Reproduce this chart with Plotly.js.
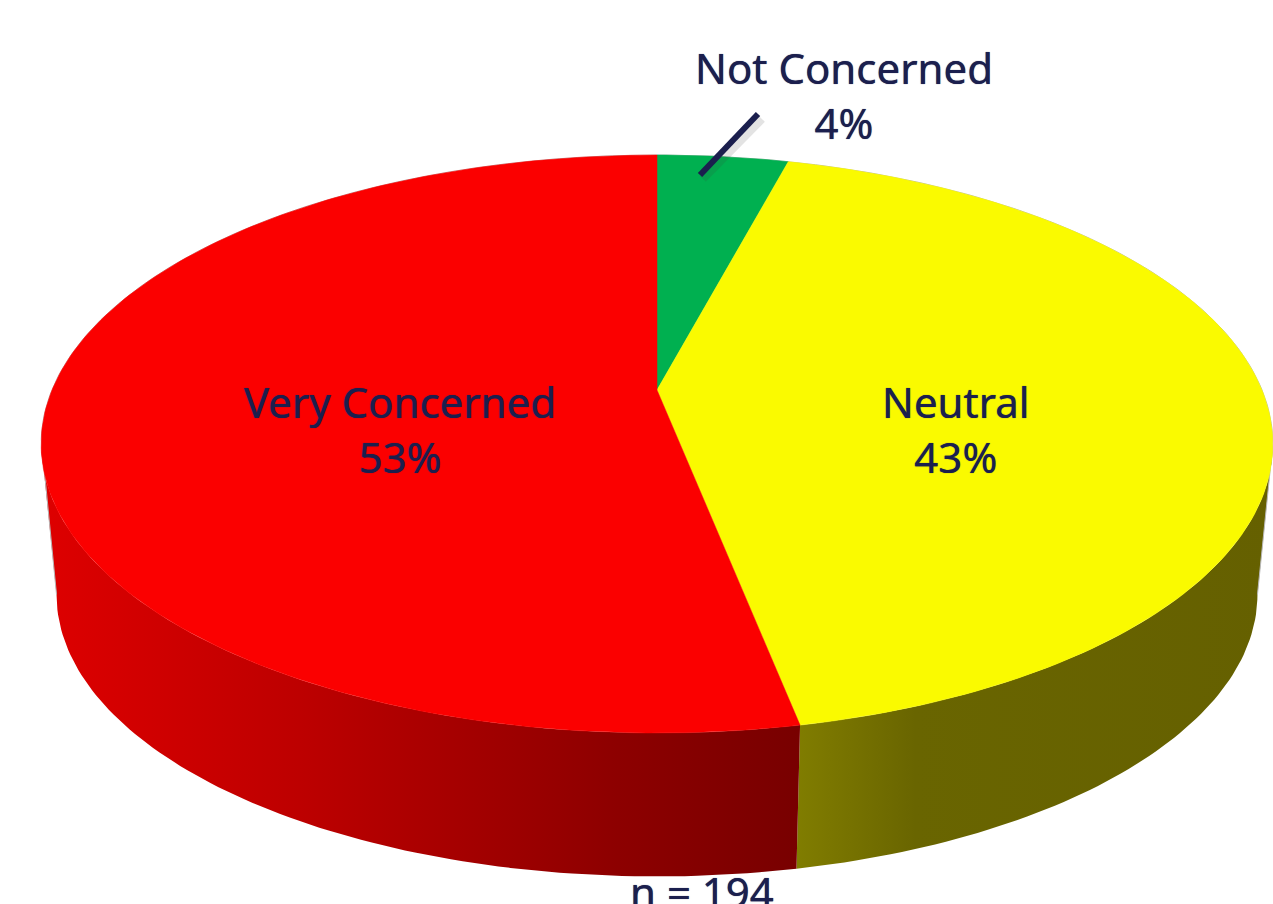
<!DOCTYPE html>
<html>
<head>
<meta charset="utf-8">
<script src="https://cdn.plot.ly/plotly-3.0.1.min.js"></script>
<style>html,body{margin:0;padding:0;background:#fff;overflow:hidden}#chart{width:1273px;height:904px}</style>
</head>
<body>
<div id="chart"></div>
<script>
// Data (clockwise from the top of the pie)
const categories = ['Not Concerned', 'Neutral', 'Very Concerned'];
const counts = [8, 83, 103];
const topColors = ['#00B050', '#FAFA00', '#FB0000'];
const totalLabel = 'n = ';

// Projection of the tilted disc onto the page
const cx = 657, cy = 390, radX = 605, radY = 278.9, persp = 0.1869;
const lowerCy = 542, lowerScale = 0.975;
const textColor = '#1B1F4E';
const fontFamily = '"Noto Sans", "Open Sans", sans-serif';
const fontSize = 42;
// Angles at which the disc's outline turns from front to back
const silRight = Math.acos(-persp) * 180 / Math.PI;
const silLeft = 360 - silRight;

const total = counts.reduce((a, b) => a + b, 0);
const shares = counts.map(c => c / total);

function rim(deg, lower) {
  const t = deg * Math.PI / 180, u = Math.sin(t), v = Math.cos(t), w = 1 + persp * v;
  const x = radX * u / w, y = -radY * v / w;
  return lower ? [cx + lowerScale * x, lowerCy + lowerScale * y] : [cx + x, cy + y];
}
function arc(a0, a1, lower) {
  const pts = [], n = Math.max(2, Math.ceil(Math.abs(a1 - a0)));
  for (let i = 0; i <= n; i++) pts.push(rim(a0 + (a1 - a0) * i / n, lower));
  return pts;
}

let cum = 0;
const spans = shares.map(s => { const a = [cum * 360, (cum + s) * 360]; cum += s; return a; });

const sideGradients = [
  null,
  [[0, '#807D00'], [0.05, '#7C7800'], [0.25, '#696500'], [1, '#656000']],
  [[0, '#DE0000'], [0.35, '#BC0000'], [0.75, '#8E0000'], [1, '#780000']]
];

const traces = [];
// Side walls: only the part of each slice that faces the viewer
spans.forEach((sp, i) => {
  if (!sideGradients[i]) return;
  const a0 = Math.max(sp[0], silRight), a1 = Math.min(sp[1], silLeft);
  const pts = arc(a0, a1, false).concat(arc(a1, a0, true));
  pts.push(pts[0]);
  traces.push({
    type: 'scatter', mode: 'lines', hoverinfo: 'skip', showlegend: false,
    x: pts.map(p => p[0]), y: pts.map(p => p[1]),
    fill: 'toself',
    fillgradient: { type: 'horizontal', colorscale: sideGradients[i] },
    line: { width: 0 }
  });
});
// Thin grey edge: down the two silhouette sides and round the back of the disc
const outline = [rim(silLeft, true)].concat(arc(silLeft, 360 + silRight, false), [rim(silRight, true)]);
traces.push({
  type: 'scatter', mode: 'lines', hoverinfo: 'skip', showlegend: false,
  x: outline.map(p => p[0]), y: outline.map(p => p[1]),
  line: { color: '#B8B8B8', width: 1 }
});
// Top wedges
spans.forEach((sp, i) => {
  const pts = [[cx, cy]].concat(arc(sp[0], sp[1], false), [[cx, cy]]);
  traces.push({
    type: 'scatter', mode: 'lines', name: categories[i], showlegend: false,
    x: pts.map(p => p[0]), y: pts.map(p => p[1]),
    fill: 'toself', fillcolor: topColors[i],
    line: { color: topColors[i], width: 0.5 },
    hoverinfo: 'name'
  });
});

const labelPos = [[844, 95], [956, 429], [400, 429]];
const labelFont = { family: fontFamily, size: fontSize, color: textColor, weight: 400,
  shadow: '0 0 0.8px ' + textColor };
const annotations = categories.map((c, i) => ({
  xref: 'x', yref: 'y', showarrow: false, xanchor: 'center', yanchor: 'middle', align: 'center',
  x: labelPos[i][0], y: labelPos[i][1], font: labelFont,
  text: c + '<br>' + Math.round(shares[i] * 100) + '%'
}));
annotations.push({ xref: 'x', yref: 'y', x: 702, y: 891, showarrow: false, xanchor: 'center', yanchor: 'middle',
  text: totalLabel + total, font: labelFont });

const shapes = [
  { type: 'line', xref: 'x', yref: 'y', x0: 762, y0: 119, x1: 703, y1: 179, layer: 'above',
    line: { color: 'rgba(60,60,60,0.14)', width: 8 } },
  { type: 'line', xref: 'x', yref: 'y', x0: 758, y0: 114, x1: 700, y1: 175, layer: 'above',
    line: { color: textColor, width: 6 } }
];

Plotly.newPlot('chart', traces, {
  width: 1273, height: 904,
  margin: { l: 0, r: 0, t: 0, b: 0 },
  paper_bgcolor: '#FFFFFF', plot_bgcolor: '#FFFFFF',
  xaxis: { range: [0, 1273], visible: false, fixedrange: true },
  yaxis: { range: [904, 0], visible: false, fixedrange: true },
  showlegend: false,
  annotations, shapes
}, { displayModeBar: false });
</script>
</body>
</html>
